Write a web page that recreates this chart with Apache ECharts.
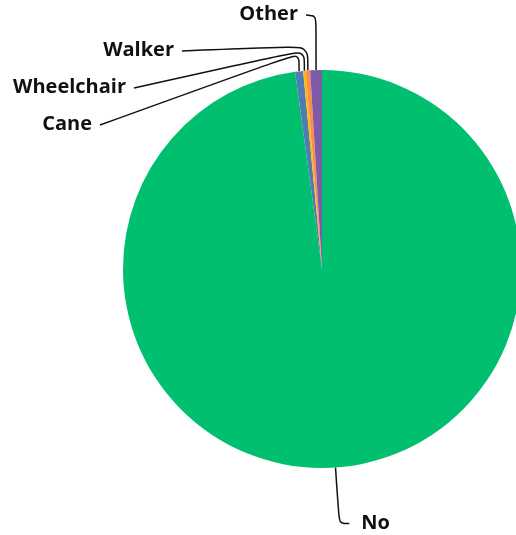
<!DOCTYPE html>
<html>
<head>
<meta charset="UTF-8">
<title></title>
<script src="https://cdn.jsdelivr.net/npm/echarts@6/dist/echarts.min.js"></script>
</head>
<body style="margin:0;background:#fff;">
<div id="pie_chart" style="width:516px;height:535px;"></div>
<script>
// 数据
var categories = ['No', 'Cane', 'Wheelchair', 'Walker', 'Other'];
var values = [97.84, 0.65, 0.2, 0.36, 0.95];
var colors = ['#00BF6F', '#507CB6', '#F9BE00', '#FF8B4F', '#7D5BA6'];

var pieData = [];
for (var i = 0; i < categories.length; i++) {
	pieData.push({ name: categories[i], value: values[i] });
}

// 小扇区标签的位置 (label right edge x, label y, elbow y)
var smallLabelPos = {
	1: [92, 124, 53],
	2: [126, 87, 50],
	3: [174, 50, 46],
	4: [298, 14, 16]
};

var option = {
	animation: false,
	color: colors,
	series: [{
		type: 'pie',
		center: [322, 269],
		radius: 199,
		startAngle: 90,
		clockwise: true,
		avoidLabelOverlap: true,
		data: pieData,
		label: {
			show: true,
			position: 'outside',
			fontFamily: 'Open Sans',
			fontWeight: 'bold',
			fontSize: 20,
			color: '#111',
			distanceToLabelLine: 12,
			formatter: '{b}'
		},
		labelLine: {
			show: true,
			length: 56,
			length2: 10,
			smooth: 0.3,
			lineStyle: { color: '#111', width: 1.5 }
		},
		labelLayout: function (params) {
			var pos = smallLabelPos[params.dataIndex];
			if (!pos || !params.labelLinePoints) {
				return {};
			}
			var p0 = params.labelLinePoints[0];
			return {
				x: pos[0],
				y: pos[1],
				align: 'right',
				verticalAlign: 'middle',
				labelLinePoints: [
					[p0[0], p0[1]],
					[p0[0], pos[2]],
					[pos[0] + 8, pos[1] + 1]
				]
			};
		},
		itemStyle: { borderWidth: 0 },
		emphasis: { disabled: true }
	}]
};

var myChart = echarts.init(document.getElementById('pie_chart'));
myChart.setOption(option);
</script>
</body>
</html>
